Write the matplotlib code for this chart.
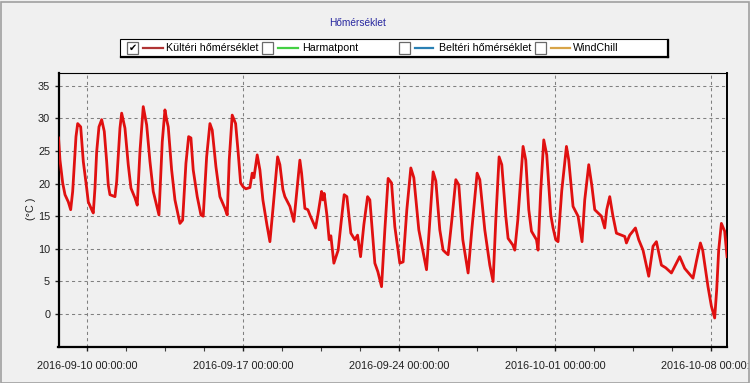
import matplotlib
matplotlib.use("Agg")
import matplotlib.pyplot as plt
import matplotlib.dates as mdates
from matplotlib.patches import Rectangle
from matplotlib.lines import Line2D
from matplotlib.ticker import FixedLocator
import pandas as pd

# ---------------- data ----------------
start = "2016-09-10 00:00:00"
# days since 2016-09-10 00:00
days = [-1.29, -1.225, -1.104, -1.000, -0.852, -0.745, -0.655, -0.507, -0.431, -0.296,
        -0.179, -0.027, 0.045, 0.197, 0.269, 0.345, 0.422, 0.525, 0.646, 0.763,
        0.870, 0.942, 1.018, 1.243, 1.319, 1.467, 1.543, 1.691, 1.839, 1.961,
        2.140, 2.243, 2.364, 2.512, 2.665, 2.813, 2.961, 3.113, 3.217, 3.365,
        3.486, 3.562, 3.634, 3.786, 3.935,
        4.159, 4.280, 4.428, 4.549, 4.652, 4.755, 4.935, 5.101, 5.204, 5.357,
        5.505, 5.608, 5.774, 5.953, 6.178, 6.281, 6.371, 6.505, 6.658, 6.774,
        6.882, 6.999, 7.120, 7.299, 7.402, 7.479, 7.627, 7.748, 7.882, 8.062,
        8.197, 8.331, 8.542, 8.645, 8.780, 8.869, 9.094, 9.273, 9.408, 9.542,
        9.619, 9.767, 9.901, 9.991, 10.247, 10.350, 10.440, 10.516, 10.574, 10.633,
        10.754, 10.857, 10.933, 11.068, 11.261, 11.382, 11.530, 11.651, 11.830, 12.010,
        12.131, 12.266, 12.414, 12.580, 12.683, 12.907, 13.042, 13.208, 13.356, 13.504,
        13.656, 13.804, 14.029, 14.177, 14.343, 14.522, 14.657, 14.881, 15.227, 15.375,
        15.523, 15.644, 15.823, 15.971, 16.092, 16.196, 16.362, 16.541, 16.676, 16.855,
        17.093, 17.259, 17.497, 17.618, 17.842, 18.067, 18.214, 18.336, 18.484, 18.605,
        18.784, 18.888, 19.098, 19.188, 19.323, 19.560, 19.681, 19.816, 19.937, 20.161,
        20.233, 20.354, 20.489, 20.623, 20.803, 20.906, 21.027, 21.130, 21.296, 21.507,
        21.610, 21.803, 22.028, 22.207, 22.328, 22.508, 22.642, 22.777, 23.077, 23.225,
        23.315, 23.450, 23.584, 23.750, 24.123, 24.199, 24.347, 24.603, 24.751, 24.944,
        25.200, 25.393, 25.545, 25.769, 25.962, 26.218, 26.411, 26.590, 26.815, 27.187,
        27.353, 27.519, 27.622, 27.860, 28.013, 28.160, 28.250, 28.340, 28.461, 28.609,
        28.713]
temps = [27.0, 23.6, 20.1, 18.3, 17.2, 16.0, 18.8, 27.2, 29.2, 28.7,
         23.4, 19.3, 17.2, 16.0, 15.5, 19.3, 24.9, 28.7, 29.8, 28.0,
         23.4, 19.8, 18.3, 18.0, 20.3, 28.5, 30.8, 28.5, 22.9, 19.3,
         17.8, 16.7, 24.9, 31.8, 29.0, 23.4, 18.8, 16.7, 15.2, 26.4,
         31.3, 29.8, 28.7, 22.1, 17.5,
         13.9, 14.4, 23.1, 27.2, 27.0, 22.1, 18.0, 15.2, 15.0, 24.1,
         29.2, 28.2, 22.6, 18.0, 16.2, 15.2, 23.6, 30.5, 29.2, 24.7,
         20.1, 19.5, 19.2, 19.4, 21.6, 20.9, 24.4, 22.1, 17.5, 13.7,
         11.1, 16.0, 24.1, 22.9, 19.1, 18.0, 16.5, 14.2, 19.0, 23.6,
         21.6, 16.2, 16.0, 15.2, 13.2, 15.2, 17.2, 18.8, 17.5, 18.5,
         15.2, 11.4, 12.0, 7.8, 9.8, 13.7, 18.3, 18.0, 12.4, 11.4,
         12.1, 8.8, 13.7, 18.0, 17.5, 7.8, 6.5, 4.2, 12.9, 20.8,
         20.1, 13.4, 7.8, 8.0, 16.0, 22.4, 20.9, 12.9, 6.8, 14.4,
         21.8, 20.4, 12.9, 9.8, 9.4, 9.1, 14.4, 20.6, 19.8, 11.4,
         6.3, 12.9, 21.6, 20.6, 12.9, 7.5, 5.0, 14.4, 24.1, 22.9,
         15.0, 11.6, 10.6, 9.8, 14.4, 25.7, 23.6, 16.0, 12.7, 11.4,
         9.8, 19.0, 26.7, 24.4, 15.2, 13.2, 11.4, 11.1, 18.9, 25.7,
         23.6, 16.5, 15.0, 11.1, 17.5, 22.9, 19.8, 16.0, 15.0, 13.2,
         16.0, 18.0, 15.2, 12.4, 11.9, 10.9, 12.1, 13.2, 11.4, 9.8,
         5.8, 10.4, 11.1, 7.5, 7.1, 6.3, 7.6, 8.8, 7.0, 5.5,
         8.3, 10.9, 9.8, 4.2, 1.2, -0.6, 3.7, 9.8, 13.9, 12.7,
         8.8]

y_ticks = [0, 5, 10, 15, 20, 25, 30, 35]
x_tick_dates = ["2016-09-10", "2016-09-17", "2016-09-24", "2016-10-01", "2016-10-08"]
x_range = ["2016-09-08 17:00", "2016-10-08 17:07"]
title = "Hőmérséklet"
y_label = "(°C )"
legend_labels = ["Kültéri hőmérséklet", "Harmatpont", "Beltéri hőmérséklet", "WindChill"]
legend_colors = ["#b03434", "#44d044", "#2a80b4", "#d8a448"]
legend_checked = [True, False, False, False]

# ---------------- figure ----------------
W, H = 750, 383
BG = "#f0f0f0"
fig = plt.figure(figsize=(W / 100, H / 100), dpi=100, facecolor=BG)
FONT = ["Liberation Sans", "DejaVu Sans"]


def fx(x):
    return x / W


def fy(y):
    return 1 - y / H


ax = fig.add_axes([fx(58.5), fy(346.7), fx(727) - fx(58.5), fy(72.7) - fy(346.7)])
ax.set_facecolor(BG)

times = pd.Timestamp(start) + pd.to_timedelta(days, unit="D")
ax.plot(times, temps, color="#e01010", lw=2.0, solid_joinstyle="round", zorder=3)

ax.set_xlim(pd.Timestamp(x_range[0]), pd.Timestamp(x_range[1]))
ax.set_ylim(-5, 37)

major = [mdates.date2num(pd.Timestamp(d)) for d in x_tick_dates]
minor = [mdates.date2num(d) for d in pd.date_range(x_tick_dates[0], x_tick_dates[-1], freq="42h")]
ax.xaxis.set_major_locator(FixedLocator(major))
ax.xaxis.set_minor_locator(FixedLocator(minor))
ax.xaxis.set_major_formatter(mdates.DateFormatter("%Y-%m-%d %H:%M:%S"))
ax.set_yticks(y_ticks)

for lab in ax.get_xticklabels() + ax.get_yticklabels():
    lab.set_family(FONT)
ax.tick_params(axis="x", which="major", length=3, width=1, direction="out",
               labelsize=7.8, pad=7, colors="#202020")
ax.tick_params(axis="x", which="minor", length=3, width=0.8, direction="out", colors="#404040")
ax.tick_params(axis="y", which="major", length=3, width=1, direction="out",
               labelsize=7.8, pad=3, colors="#202020")

ax.grid(True, which="major", color="#808080", lw=0.75, linestyle=(0, (3, 3)))

ax.spines["left"].set_linewidth(1.6)
ax.spines["bottom"].set_linewidth(1.6)
ax.spines["right"].set_linewidth(1.4)
ax.spines["top"].set_linewidth(0.8)
for s in ax.spines.values():
    s.set_color("black")

fig.text(fx(31), fy(209), y_label, rotation=90, ha="center", va="center",
         fontsize=7.8, family=FONT, color="#202020")

# title
fig.text(fx(357.5), fy(23), title, ha="center", va="center", fontsize=7.3,
         family=FONT, color="#2828a0")

# legend box
lx0, lx1, ly0, ly1 = 120, 668, 39, 57
fig.add_artist(Rectangle((fx(lx0), fy(ly1)), fx(lx1) - fx(lx0), fy(ly0) - fy(ly1),
                         transform=fig.transFigure, facecolor="white",
                         edgecolor="black", lw=0.8, zorder=1))
fig.add_artist(Line2D([fx(lx1), fx(lx1)], [fy(ly0 + 1), fy(ly1)], transform=fig.transFigure,
                      color="black", lw=1.6, zorder=2))
fig.add_artist(Line2D([fx(lx0 + 1), fx(lx1)], [fy(ly1), fy(ly1)], transform=fig.transFigure,
                      color="black", lw=1.6, zorder=2))

box_x = [127, 262, 399, 535]
line_x = [(143, 163), (278, 298), (415, 433), (551, 570)]
text_x = [166, 302, 439, 573]
cy = 48
for i, lab in enumerate(legend_labels):
    bx = box_x[i]
    fig.add_artist(Rectangle((fx(bx), fy(cy + 5.5)), fx(11), 11 / H,
                             transform=fig.transFigure, facecolor="white",
                             edgecolor="#6a6a6a", lw=0.9, zorder=3))
    if legend_checked[i]:
        fig.text(fx(bx + 5.5), fy(cy), "✔", ha="center", va="center", fontsize=7,
                 family=["DejaVu Sans"], color="black", zorder=4)
    fig.add_artist(Line2D([fx(line_x[i][0]), fx(line_x[i][1])], [fy(cy), fy(cy)],
                          transform=fig.transFigure, color=legend_colors[i], lw=1.6, zorder=3))
    fig.text(fx(text_x[i]), fy(cy), lab, ha="left", va="center", fontsize=7.7,
             family=FONT, color="black", zorder=4)

# outer frame
fig.add_artist(Rectangle((0.5 / W, 0.5 / H), 1 - 2 / W, 1 - 2 / H, transform=fig.transFigure,
                         fill=False, edgecolor="#a0a0a0", lw=1.2, zorder=10))

fig.savefig("out.png", dpi=100, facecolor=BG)
